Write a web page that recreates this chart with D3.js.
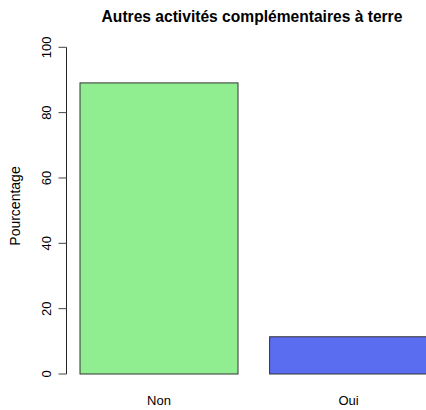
<!DOCTYPE html>
<html>
  <head>
    <meta charset="utf-8">
    <title>Autres activités complémentaires à terre</title>
    <script src="https://d3js.org/d3.v7.min.js"></script>
    <style>
      body { margin: 0; background: #fff; }
      svg text { font-family: "Liberation Sans", Arial, sans-serif; fill: #000; }
    </style>
  </head>
  <body>
    <div id="chart"></div>
    <script>
      // data
      var categories = ["Non", "Oui"];
      var values = [89.1, 11.4];
      var colors = ["#90EE90", "#5A6CF0"];
      var yTicks = [0, 20, 40, 60, 80, 100];
      var title = "Autres activités complémentaires à terre";
      var yLabel = "Pourcentage";

      var width = 426, height = 410;

      var svg = d3.select("#chart")
        .append("svg")
          .attr("width", width)
          .attr("height", height);

      // scales (plot runs past the right edge, as in the picture)
      var x = d3.scaleBand()
        .domain(categories)
        .range([80, 427.6])
        .paddingInner(0.2 / 1.2)
        .paddingOuter(0);
      var y = d3.scaleLinear()
        .domain([0, 100])
        .range([374, 47.3]);

      // bars
      svg.selectAll(".bar")
          .data(values)
        .enter().append("rect")
          .classed("bar", true)
          .attr("x", function(d, i) { return x(categories[i]); })
          .attr("y", function(d) { return y(d); })
          .attr("width", x.bandwidth())
          .attr("height", function(d) { return y(0) - y(d); })
          .attr("fill", function(d, i) { return colors[i]; })
          .attr("stroke", "#333")
          .attr("stroke-width", 1);

      // y axis
      var axisX = 66.5;
      var yAxis = svg.append("g")
        .attr("transform", "translate(" + axisX + ",0)");
      yAxis.append("line")
        .attr("x1", 0).attr("x2", 0)
        .attr("y1", y(100)).attr("y2", y(0))
        .attr("stroke", "#222");
      yAxis.selectAll(".tick")
          .data(yTicks)
        .enter().append("line")
          .attr("x1", -8).attr("x2", 0)
          .attr("y1", function(d) { return y(d); })
          .attr("y2", function(d) { return y(d); })
          .attr("stroke", "#444");
      yAxis.selectAll(".tickLabel")
          .data(yTicks)
        .enter().append("text")
          .attr("transform", function(d) { return "translate(-16," + y(d) + ") rotate(-90)"; })
          .attr("text-anchor", "middle")
          .style("font-size", "13px")
          .text(function(d) { return d; });

      // category labels
      svg.selectAll(".catLabel")
          .data(categories)
        .enter().append("text")
          .attr("x", function(d) { return x(d) + x.bandwidth() / 2; })
          .attr("y", 404.5)
          .attr("text-anchor", "middle")
          .style("font-size", "13px")
          .text(function(d) { return d; });

      // y label
      svg.append("text")
        .attr("transform", "translate(20,206) rotate(-90)")
        .attr("text-anchor", "middle")
        .style("font-size", "14px")
        .text(yLabel);

      // title
      svg.append("text")
        .attr("x", 252)
        .attr("y", 22)
        .attr("text-anchor", "middle")
        .style("font-size", "15.6px")
        .style("font-weight", "bold")
        .text(title);
    </script>
  </body>
</html>
